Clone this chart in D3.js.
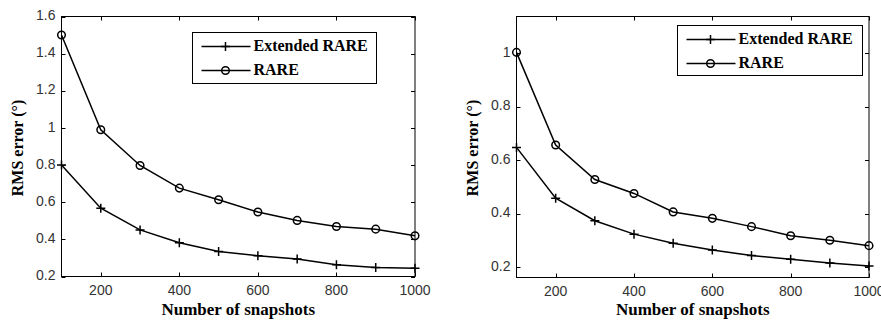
<!DOCTYPE html>
<html><head><meta charset="utf-8">
<script src="https://cdn.jsdelivr.net/npm/d3@7"></script>
<style>
html,body{margin:0;padding:0;background:#fff;}
svg{display:block;}
.serif{font-family:"Liberation Serif","Times New Roman",Times,serif;font-weight:bold;}
.sans{font-family:"Liberation Sans",Arial,sans-serif;}
</style></head>
<body>
<svg id="chart" width="881" height="320"></svg>
<script>
const snapshots = [100, 200, 300, 400, 500, 600, 700, 800, 900, 1000];
const xTicks = [200, 400, 600, 800, 1000];
const seriesNames = ["Extended RARE", "RARE"];
// Left panel
const leftExtended = [0.80, 0.568, 0.451, 0.382, 0.335, 0.312, 0.294, 0.263, 0.248, 0.244];
const leftRare = [1.50, 0.99, 0.798, 0.676, 0.613, 0.547, 0.502, 0.469, 0.455, 0.419];
const leftYTicks = [0.2, 0.4, 0.6, 0.8, 1, 1.2, 1.4, 1.6];
const leftYDomain = [0.2, 1.6];
// Right panel
const rightExtended = [0.648, 0.458, 0.374, 0.324, 0.290, 0.265, 0.244, 0.230, 0.216, 0.205];
const rightRare = [1.003, 0.657, 0.528, 0.476, 0.407, 0.383, 0.352, 0.318, 0.301, 0.281];
const rightYTicks = [0.2, 0.4, 0.6, 0.8, 1];
const rightYDomain = [0.162, 1.137];
const xLabel = "Number of snapshots";
const yLabel = "RMS error (°)";

const svg = d3.select("#chart");
const fmt = v => String(+v.toFixed(2));

function panel(cfg) {
  const g = svg.append("g");
  const x = d3.scaleLinear().domain([100, 1000]).range([cfg.left, cfg.right]);
  const y = d3.scaleLinear().domain(cfg.yDomain).range([cfg.bottom, cfg.top]);
  const T = 4;
  g.append("rect").attr("x", cfg.left).attr("y", cfg.top)
    .attr("width", cfg.right - cfg.left).attr("height", cfg.bottom - cfg.top)
    .attr("fill", "none").attr("stroke", "#000").attr("stroke-width", 1);
  xTicks.forEach(t => {
    const px = Math.round(x(t)) + 0.5;
    g.append("line").attr("x1", px).attr("x2", px).attr("y1", cfg.bottom).attr("y2", cfg.bottom - T).attr("stroke", "#000");
    g.append("line").attr("x1", px).attr("x2", px).attr("y1", cfg.top).attr("y2", cfg.top + T).attr("stroke", "#000");
    g.append("text").attr("class", "sans").attr("x", x(t)).attr("y", cfg.bottom + 15)
      .attr("text-anchor", "middle").attr("dominant-baseline", "middle")
      .attr("font-size", 14).attr("fill", "#333").text(t);
  });
  cfg.yTicks.forEach(t => {
    const py = Math.round(y(t)) + 0.5;
    g.append("line").attr("x1", cfg.left).attr("x2", cfg.left + T).attr("y1", py).attr("y2", py).attr("stroke", "#000");
    g.append("line").attr("x1", cfg.right).attr("x2", cfg.right - T).attr("y1", py).attr("y2", py).attr("stroke", "#000");
    g.append("text").attr("class", "sans").attr("x", cfg.left - 6).attr("y", y(t))
      .attr("text-anchor", "end").attr("dominant-baseline", "middle")
      .attr("font-size", 14).attr("fill", "#333").text(fmt(t));
  });
  g.append("text").attr("class", "serif").attr("x", (cfg.left + cfg.right) / 2).attr("y", 311)
    .attr("text-anchor", "middle").attr("dominant-baseline", "middle")
    .attr("font-size", 17).text(xLabel);
  g.append("text").attr("class", "serif").attr("transform", `translate(${cfg.ylabX},148) rotate(-90)`)
    .attr("text-anchor", "middle").attr("dominant-baseline", "middle")
    .attr("font-size", 16).text(yLabel);
  const line = d3.line().x((d, i) => x(snapshots[i])).y(d => y(d));
  [cfg.ext, cfg.rare].forEach((vals, si) => {
    g.append("path").attr("d", line(vals)).attr("fill", "none")
      .attr("stroke", "#000").attr("stroke-width", 1.5);
    vals.forEach((v, i) => drawMarker(g, si, x(snapshots[i]), y(v)));
  });
  const L = cfg.legend;
  g.append("rect").attr("x", L.x).attr("y", L.y).attr("width", L.w).attr("height", L.h)
    .attr("fill", "#fff").attr("stroke", "#000").attr("stroke-width", 1);
  seriesNames.forEach((name, si) => {
    const ly = L.y + 14 + si * 24;
    g.append("line").attr("x1", L.x + 9).attr("x2", L.x + 58).attr("y1", ly).attr("y2", ly)
      .attr("stroke", "#000").attr("stroke-width", 1.5);
    drawMarker(g, si, L.x + 33, ly);
    g.append("text").attr("class", "serif").attr("x", L.x + 61).attr("y", ly + 1)
      .attr("dominant-baseline", "middle").attr("font-size", 16).text(name);
  });
}

function drawMarker(g, si, cx, cy) {
  if (si === 0) {
    const s = 4.5;
    g.append("path").attr("d", `M${cx - s},${cy}H${cx + s}M${cx},${cy - s}V${cy + s}`)
      .attr("stroke", "#000").attr("stroke-width", 1.5).attr("fill", "none");
  } else {
    g.append("circle").attr("cx", cx).attr("cy", cy).attr("r", 3.8)
      .attr("fill", "none").attr("stroke", "#000").attr("stroke-width", 1.5);
  }
}

panel({left: 61.5, right: 415, top: 16.5, bottom: 276.5, yDomain: leftYDomain, yTicks: leftYTicks,
  ext: leftExtended, rare: leftRare, ylabX: 19,
  legend: {x: 192.5, y: 32.5, w: 184, h: 51}});
panel({left: 516.5, right: 869, top: 16.5, bottom: 277.5, yDomain: rightYDomain, yTicks: rightYTicks,
  ext: rightExtended, rare: rightRare, ylabX: 474,
  legend: {x: 677.5, y: 25.5, w: 185, h: 50}});
</script>
</body></html>
